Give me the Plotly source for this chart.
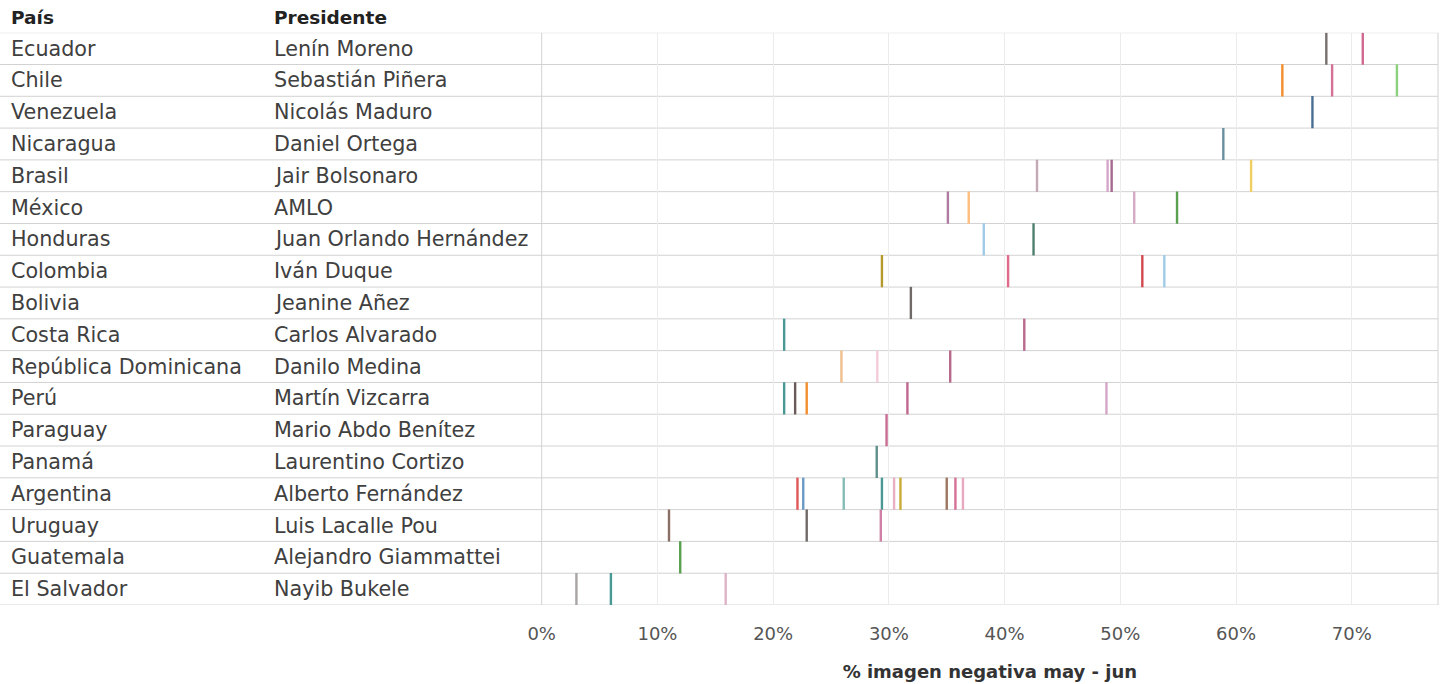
import plotly.graph_objects as go

# ---------------- data ----------------
countries = ["Ecuador", "Chile", "Venezuela", "Nicaragua", "Brasil", "México",
             "Honduras", "Colombia", "Bolivia", "Costa Rica", "República Dominicana",
             "Perú", "Paraguay", "Panamá", "Argentina", "Uruguay", "Guatemala",
             "El Salvador"]
presidents = ["Lenín Moreno", "Sebastián Piñera", "Nicolás Maduro", "Daniel Ortega",
              "Jair Bolsonaro", "AMLO", "Juan Orlando Hernández", "Iván Duque",
              "Jeanine Añez", "Carlos Alvarado", "Danilo Medina", "Martín Vizcarra",
              "Mario Abdo Benítez", "Laurentino Cortizo", "Alberto Fernández",
              "Luis Lacalle Pou", "Alejandro Giammattei", "Nayib Bukele"]

# each mark: country, % negative image (may-jun), pollster colour
mark_country = (["Ecuador"] * 2 + ["Chile"] * 3 + ["Venezuela"] + ["Nicaragua"] +
                ["Brasil"] * 4 + ["México"] * 4 + ["Honduras"] * 2 + ["Colombia"] * 4 +
                ["Bolivia"] + ["Costa Rica"] * 2 + ["República Dominicana"] * 3 +
                ["Perú"] * 5 + ["Paraguay"] + ["Panamá"] + ["Argentina"] * 9 +
                ["Uruguay"] * 3 + ["Guatemala"] + ["El Salvador"] * 3)
mark_value = [67.8, 70.95,
              64.0, 68.3, 73.9,
              66.6,
              58.9,
              42.8, 48.9, 49.25, 61.3,
              35.1, 36.9, 51.2, 54.9,
              38.2, 42.5,
              29.4, 40.3, 51.9, 53.8,
              31.9,
              20.95, 41.7,
              25.9, 29.0, 35.3,
              20.95, 21.9, 22.9, 31.6, 48.8,
              29.8,
              28.95,
              22.1, 22.6, 26.1, 29.4, 30.45, 31.0, 35.0, 35.75, 36.4,
              11.0, 22.9, 29.3,
              11.97,
              3.0, 5.98, 15.9]
mark_color = ["#79706E", "#D0688F",
              "#F28E2B", "#D37295", "#8CD17D",
              "#4A6E92",
              "#6A8FA0",
              "#C4A8B4", "#D4A6C8", "#A5688E", "#F1CE63",
              "#B07AA1", "#FFBE7D", "#D4AAC4", "#59A14F",
              "#A0CBE8", "#4F7F6F",
              "#B6992D", "#E06A8C", "#D1494F", "#A0CBE8",
              "#6F6A68",
              "#499894", "#B96A8E",
              "#EFC08E", "#F3CCD8", "#B86A8C",
              "#499894", "#6B5A5A", "#F28E2B", "#C0678E", "#D4A6C8",
              "#C86C92",
              "#5F8F8A",
              "#E15759", "#6A9AC4", "#86BCB6", "#499894", "#EAAFC2", "#C8AB35",
              "#9D7660", "#D37295", "#E8A9C0",
              "#8A6F66", "#6F6A68", "#D080A4",
              "#59A14F",
              "#AAA5A5", "#499894", "#DDB3C8"]

x_ticks = [0, 10, 20, 30, 40, 50, 60, 70]
x_tick_labels = ["0%", "10%", "20%", "30%", "40%", "50%", "60%", "70%"]
x_title = "% imagen negativa may - jun"
header_country = "País"
header_president = "Presidente"

# ---------------- figure ----------------
W, H = 1444, 684
pane_left, pane_right = 541.7, 1438.0
pane_top, pane_bottom = 32.7, 605.0
FONT = "DejaVu Sans"
TXT = "#404040"
LINE = "#d2d2d2"

row_index = {c: i for i, c in enumerate(countries)}
mark_y = [row_index[c] for c in mark_country]

fig = go.Figure()
fig.add_trace(go.Scatter(
    x=mark_value, y=mark_y, mode="markers",
    marker=dict(symbol="line-ns", size=23,
                line=dict(width=2.4, color=mark_color)),
    hoverinfo="x+y", showlegend=False,
))

n = len(countries)
shapes = []
# horizontal row separators spanning the full table width
for k in range(n + 1):
    shapes.append(dict(type="line", xref="paper", yref="y",
                       x0=0, x1=pane_right / W, y0=k - 0.5, y1=k - 0.5,
                       line=dict(color=LINE, width=1), layer="below"))
# pane borders
for xp in (pane_left, pane_right):
    shapes.append(dict(type="line", xref="paper", yref="y",
                       x0=xp / W, x1=xp / W, y0=-0.5, y1=n - 0.5,
                       line=dict(color=LINE, width=1), layer="below"))

annotations = []
for i, (c, p) in enumerate(zip(countries, presidents)):
    annotations.append(dict(text=c, xref="paper", yref="y", x=9 / W, y=i,
                            xanchor="left", yanchor="middle", showarrow=False,
                            font=dict(family=FONT, size=20.7, color=TXT)))
    annotations.append(dict(text=p, xref="paper", yref="y", x=272 / W, y=i,
                            xanchor="left", yanchor="middle", showarrow=False,
                            font=dict(family=FONT, size=20.7, color=TXT)))
for txt, xp in ((header_country, 9), (header_president, 272)):
    annotations.append(dict(text="<b>" + txt + "</b>", xref="paper", yref="paper",
                            x=xp / W, y=1 - 17 / H, xanchor="left", yanchor="middle",
                            showarrow=False,
                            font=dict(family=FONT, size=18.5, color="#222222")))

fig.update_layout(
    width=W, height=H,
    margin=dict(l=0, r=0, t=0, b=0, pad=0),
    paper_bgcolor="white", plot_bgcolor="white",
    shapes=shapes, annotations=annotations,
    xaxis=dict(domain=[pane_left / W, pane_right / W], range=[0, 77.45],
               tickvals=x_ticks, ticktext=x_tick_labels, showgrid=True,
               gridcolor="#ececec", gridwidth=1, zeroline=False, showline=False,
               ticks="", ticklabelstandoff=16, automargin=False,
               tickfont=dict(family=FONT, size=18, color="#555555"),
               title=dict(text="<b>" + x_title + "</b>", standoff=22,
                          font=dict(family=FONT, size=18, color="#333333")),
               fixedrange=True),
    yaxis=dict(domain=[1 - pane_bottom / H, 1 - pane_top / H],
               range=[n - 0.5, -0.5], showgrid=False, zeroline=False,
               showticklabels=False, ticks="", automargin=False, fixedrange=True),
)

fig.write_html("out.html", config={"displayModeBar": False},
               post_script="document.body.style.margin='0';")
